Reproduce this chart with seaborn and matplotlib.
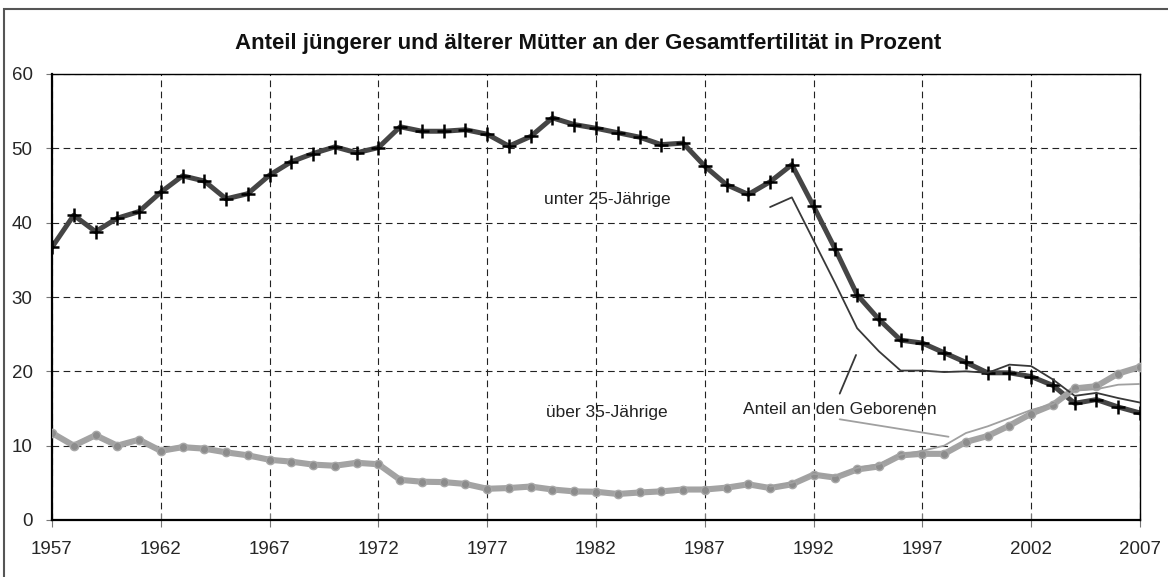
import seaborn as sns
import matplotlib.pyplot as plt
import pandas as pd
from matplotlib.patches import Rectangle

sns.set_theme(style="ticks")
plt.rcParams['font.family'] = ['Liberation Sans', 'DejaVu Sans']

# Anteil an der Gesamtfertilitaet (Prozent), 1957-2007
years = list(range(1957, 2008))
unter25 = [36.7, 41.0, 38.8, 40.6, 41.5, 44.1, 46.3, 45.6, 43.2, 43.9, 46.4, 48.2, 49.3, 50.2, 49.4, 50.1,
           52.9, 52.3, 52.3, 52.5, 51.9, 50.3, 51.6, 54.1, 53.2, 52.7, 52.1, 51.5, 50.5, 50.7, 47.6, 45.1,
           43.8, 45.5, 47.8,
           42.2, 36.4, 30.3, 27.0, 24.2, 23.8, 22.5, 21.2, 19.8, 19.8, 19.3, 18.1, 15.7, 16.2, 15.2, 14.4]
ueber35 = [11.7, 10.0, 11.4, 10.0, 10.8, 9.3, 9.8, 9.6, 9.1, 8.7, 8.1, 7.85, 7.45, 7.3, 7.7,
           7.5, 5.4, 5.15, 5.1, 4.85, 4.2, 4.3, 4.5, 4.1, 3.85, 3.8,
           3.5, 3.7, 3.85, 4.1, 4.1, 4.35, 4.8, 4.3, 4.8, 6.1, 5.7, 6.8, 7.2, 8.7, 8.9, 8.9,
           10.5, 11.3, 12.7, 14.3, 15.5, 17.7, 18.0, 19.7, 20.6]

# Anteil an den Geborenen, 1990-2007
geb_years = list(range(1990, 2008))
geb_unter25 = [42.1, 43.4, 37.6, 31.8, 25.8, 22.7, 20.1, 20.1, 19.9, 20.0, 19.8, 20.9, 20.7, 18.9,
               16.7, 17.1, 16.4, 15.8]
geb_ueber35 = [4.5, 5.0, 6.2, 5.9, 7.0, 7.5, 8.8, 9.3, 10.0, 11.7, 12.6, 13.7, 14.8, 15.6,
               17.4, 17.6, 18.2, 18.3]

df = pd.DataFrame({"jahr": years, "unter25": unter25, "ueber35": ueber35})
geb = pd.DataFrame({"jahr": geb_years, "unter25": geb_unter25, "ueber35": geb_ueber35})

fig = plt.figure(figsize=(11.68, 5.77), dpi=100)
ax = fig.add_axes([52 / 1168, 1 - 520 / 577, 1088 / 1168, 446 / 577])

sns.lineplot(data=df, x="jahr", y="unter25", ax=ax, color="#454545", lw=3.6,
             marker="+", markersize=9.5, markeredgewidth=1.8, markeredgecolor="black", zorder=3)
sns.lineplot(data=df, x="jahr", y="ueber35", ax=ax, color="#a3a3a3", lw=4.4,
             marker="o", markersize=6, markerfacecolor="#8c8c8c", markeredgecolor="#a8a8a8",
             markeredgewidth=1.0, zorder=4)
sns.lineplot(data=geb, x="jahr", y="unter25", ax=ax, color="#383838", lw=1.3, zorder=5)
sns.lineplot(data=geb, x="jahr", y="ueber35", ax=ax, color="#a0a0a0", lw=1.3, zorder=5)

ax.set_xlim(1957, 2007)
ax.set_ylim(0, 60)
ax.set_xticks(range(1957, 2008, 5))
ax.set_yticks(range(0, 61, 10))
ax.set_xlabel("")
ax.set_ylabel("")
ax.grid(True, linestyle=(0, (6, 4)), color="#222222", lw=0.8)
ax.tick_params(axis="x", direction="inout", length=10, width=0.8, color="#777777", labelsize=13.5, pad=10)
ax.tick_params(axis="y", direction="out", length=4, width=0.8, color="#777777", labelsize=13.5, pad=10)

for s in ["left", "bottom"]:
    ax.spines[s].set_linewidth(1.6)
    ax.spines[s].set_color("black")
for s in ["top", "right"]:
    ax.spines[s].set_linewidth(1.0)
    ax.spines[s].set_color("black")
    ax.spines[s].set_visible(True)

# Beschriftungen
ax.text(1982.5, 43.1, "unter 25-Jährige", ha="center", va="center", fontsize=12.5, color="#222222")
ax.text(1982.5, 14.4, "über 35-Jährige", ha="center", va="center", fontsize=12.5, color="#222222")
ax.text(1993.2, 14.9, "Anteil an den Geborenen", ha="center", va="center", fontsize=12.5, color="#222222")
ax.plot([1993.2, 1993.95], [17.0, 22.2], color="#383838", lw=1.3, zorder=6)
ax.plot([1993.2, 1998.2], [13.55, 11.2], color="#a0a0a0", lw=1.3, zorder=6)

fig.text(588 / 1168, 1 - 43 / 577, "Anteil jüngerer und älterer Mütter an der Gesamtfertilität in Prozent",
         ha="center", va="center", fontsize=16, fontweight="bold", color="#111111")

fig.patches.append(Rectangle((4 / 1168, -0.1), 1.2, 1 - 9 / 577 + 0.1, transform=fig.transFigure,
                             fill=False, edgecolor="#555555", lw=1.5))

fig.savefig("out.png", dpi=100)
